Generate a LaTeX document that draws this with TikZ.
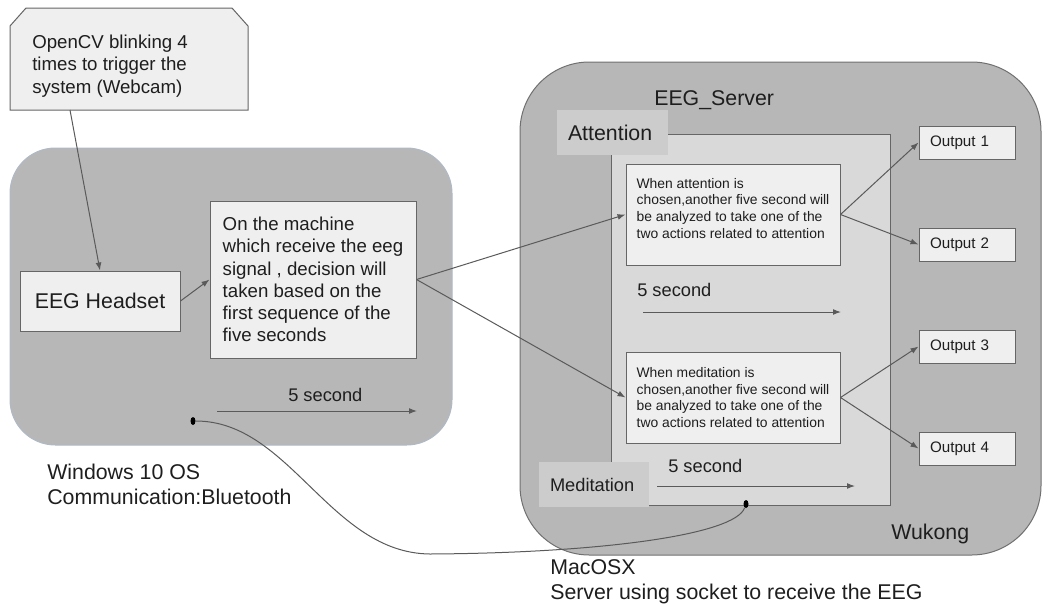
\documentclass[tikz,border=0pt]{standalone}
\usepackage{fontspec}
\setmainfont{Liberation Sans}
\usepackage{tikz}
\usetikzlibrary{positioning}
\usetikzlibrary{arrows.meta}
\usetikzlibrary{shapes.geometric}
\newdimen\px
\px=0.75pt
\def\FntBig{\fontsize{16pt}{18.75pt}\selectfont}
\def\FntMid{\fontsize{14pt}{16.6pt}\selectfont}
\def\FntSec{\fontsize{13.7pt}{16pt}\selectfont}
\def\FntOut{\fontsize{11.4pt}{13pt}\selectfont}
\def\FntSmall{\fontsize{10.4pt}{12.5pt}\selectfont}
\definecolor{HostGray}{RGB}{183,183,183}
\definecolor{HostEdge}{RGB}{112,112,112}
\definecolor{WinEdge}{RGB}{176,186,198}
\definecolor{BoxFill}{RGB}{239,239,239}
\definecolor{BoxEdge}{RGB}{102,102,102}
\definecolor{PanelFill}{RGB}{217,217,217}
\definecolor{TagFill}{RGB}{204,204,204}
\definecolor{WireGray}{RGB}{90,90,90}
\definecolor{Ink}{RGB}{30,30,30}
\tikzset{
  host/.style={rectangle, fill=HostGray, line width=0.75pt},
  card/.style={rectangle, draw=BoxEdge, fill=BoxFill, line width=0.75pt, text=Ink, align=left, inner sep=0pt},
  tag/.style={rectangle, fill=TagFill, text=Ink, align=left, inner xsep=11\px, inner ysep=0pt, minimum height=45\px},
  outbox/.style={card, text width=74\px, inner xsep=11\px, minimum height=33\px, font=\FntOut},
  caption/.style={text=Ink, inner sep=0pt, align=left},
  flow/.style={draw=WireGray, line width=0.75pt, -{Latex[length=6pt,width=4.4pt]}},
  wire/.style={draw=WireGray, line width=0.75pt},
  blip/.style={ellipse, fill=black, inner sep=0pt, minimum width=5\px, minimum height=8\px},
}

\begin{document}
\begin{tikzpicture}[x=0.75pt,y=-0.75pt]
\useasboundingbox (0,0) rectangle (1049,607);
% the two machines
\node[host, draw=WinEdge, rounded corners=34pt, minimum width=442\px, minimum height=297\px] (win) at (231,296.5) {};
\node[host, draw=HostEdge, rounded corners=52pt, minimum width=521\px, minimum height=493\px] (mac) at (780.5,308.5) {};
\node[rectangle, draw=BoxEdge, fill=PanelFill, line width=0.75pt, minimum width=279\px, minimum height=371\px] (panel) at (750.5,319.5) {};
\node[tag, text width=89\px, font=\FntBig] (attntag) at (612.5,132.5) {Attention};
\node[tag, text width=88\px, font=\FntSec] (medtag) at (594,484.5) {Meditation};

% trigger note
\draw[line width=0.75pt, draw=BoxEdge, fill=BoxFill] (10,26) -- (26,8) -- (232,8) -- (248,26) -- (248,110) -- (10,110) -- cycle;
\node[caption, anchor=north west, font=\FntMid] (note) at (32,35) {OpenCV blinking 4\\times to trigger the\\system (Webcam)};
\coordinate (notefoot) at (70,110);

% windows side
\node[card, minimum width=160\px, minimum height=60\px, font=\FntBig] (headset) at (100,301) {EEG Headset};
\node[card, minimum width=206\px, minimum height=157\px, font=\FntMid] (decide) at (313,279.5) {On the machine\\which receive the eeg\\signal , decision will\\taken based on the\\first sequence of the\\five seconds};

% server side
\node[card, minimum width=214\px, minimum height=101\px, font=\FntSmall] (attn) at (733,214.5) {When attention is\\chosen,another five second will\\be analyzed to take one of the\\two actions related to attention\\[-3pt]\mbox{}};
\node[card, minimum width=214\px, minimum height=91\px, font=\FntSmall] (medit) at (733,397.5) {When meditation is\\chosen,another five second will\\be analyzed to take one of the\\two actions related to attention};
\node[outbox] (out1) at (967,142.5) {Output 1};
\node[outbox, below=68\px of out1] (out2) {Output 2};
\node[outbox, below=68\px of out2] (out3) {Output 3};
\node[outbox, below=68\px of out3] (out4) {Output 4};

% captions
\node[caption, anchor=base west, font=\FntBig] (srvname) at (654,105) {EEG\_Server};
\node[caption, anchor=base west, font=\FntBig] (macid) at (891,539) {Wukong};
\node[caption, anchor=north west, font=\FntBig] (winname) at (47,464) {Windows 10 OS\\Communication:Bluetooth};
\node[caption, anchor=north west, font=\FntBig] (macname) at (550,559) {MacOSX\\Server using socket to receive the EEG};

% five second windows
\node[caption, anchor=base west, font=\FntSec] (sec1) at (288,401) {5 second};
\node[caption, anchor=base west, font=\FntSec] (sec2) at (637,296) {5 second};
\node[caption, anchor=base west, font=\FntSec] (sec3) at (668,472) {5 second};
\coordinate (s1a) at (217,411); \coordinate (s1b) at (417,411);
\coordinate (s2a) at (643,312); \coordinate (s2b) at (841,312);
\coordinate (s3a) at (657,486); \coordinate (s3b) at (855,486);
\draw[flow] (s1a) -- (s1b);
\draw[flow] (s2a) -- (s2b);
\draw[flow] (s3a) -- (s3b);

% flow
\draw[flow] (notefoot) -- (headset.north);
\draw[flow] (headset.east) -- (decide.west);
\draw[flow] (decide.east) -- (attn.west);
\draw[flow] (decide.east) -- (medit.west);
\draw[flow] (attn.east) -- (out1.west);
\draw[flow] (attn.east) -- (out2.west);
\draw[flow] (medit.east) -- (out3.west);
\draw[flow] (medit.east) -- (out4.west);

% bluetooth link
\node[blip] (plugA) at (193,421) {};
\node[blip] (plugB) at (746,504) {};
\draw[wire] (plugA) .. controls (290,421) and (330,553) .. (430,554) .. controls (600,553) and (735,535) .. (plugB);
\end{tikzpicture}
\end{document}
